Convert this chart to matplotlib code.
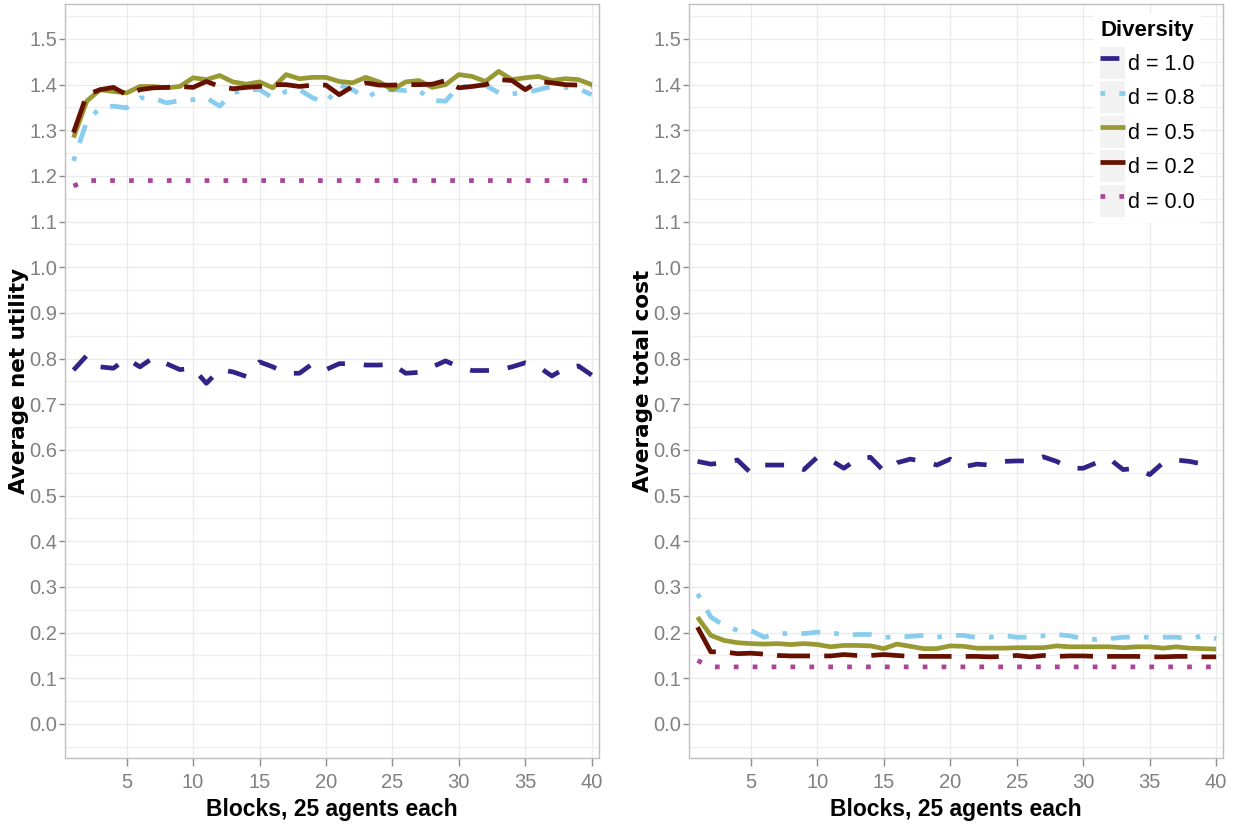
import matplotlib
matplotlib.use("Agg")
import matplotlib.pyplot as plt
from matplotlib.lines import Line2D
from matplotlib.patches import Rectangle
from matplotlib.ticker import MultipleLocator, FormatStrFormatter

# --- data ---
blocks = list(range(1, 41))
diversity_labels = ["d = 1.0", "d = 0.8", "d = 0.5", "d = 0.2", "d = 0.0"]

util_d10 = [0.775, 0.807, 0.782, 0.779, 0.800, 0.782, 0.802, 0.789, 0.776, 0.779,
            0.746, 0.776, 0.771, 0.761, 0.793, 0.782, 0.768, 0.768, 0.789, 0.776,
            0.789, 0.789, 0.786, 0.786, 0.788, 0.768, 0.770, 0.782, 0.795, 0.782,
            0.774, 0.774, 0.775, 0.782, 0.791, 0.782, 0.762, 0.779, 0.784, 0.764]
util_d08 = [1.233, 1.320, 1.349, 1.353, 1.349, 1.371, 1.371, 1.360, 1.365, 1.367,
            1.371, 1.353, 1.382, 1.389, 1.389, 1.371, 1.385, 1.389, 1.371, 1.360,
            1.399, 1.389, 1.371, 1.387, 1.389, 1.387, 1.387, 1.365, 1.364, 1.396,
            1.396, 1.399, 1.382, 1.380, 1.382, 1.389, 1.396, 1.394, 1.391, 1.378]
util_d05 = [1.284, 1.364, 1.389, 1.385, 1.382, 1.396, 1.396, 1.393, 1.396, 1.415,
            1.411, 1.420, 1.406, 1.401, 1.406, 1.393, 1.422, 1.413, 1.416, 1.416,
            1.407, 1.404, 1.416, 1.406, 1.389, 1.406, 1.409, 1.394, 1.400, 1.422,
            1.418, 1.407, 1.429, 1.411, 1.415, 1.418, 1.409, 1.413, 1.411, 1.400]
util_d02 = [1.295, 1.378, 1.389, 1.394, 1.378, 1.389, 1.393, 1.394, 1.396, 1.394,
            1.407, 1.396, 1.391, 1.394, 1.396, 1.400, 1.400, 1.396, 1.399, 1.399,
            1.378, 1.396, 1.404, 1.399, 1.399, 1.400, 1.400, 1.401, 1.409, 1.393,
            1.396, 1.400, 1.411, 1.409, 1.389, 1.407, 1.404, 1.400, 1.399, 1.396]
util_d00 = [1.178, 1.19, 1.19, 1.19, 1.19, 1.19, 1.19, 1.19, 1.19, 1.19,
            1.19, 1.19, 1.19, 1.19, 1.19, 1.19, 1.19, 1.19, 1.19, 1.19,
            1.19, 1.19, 1.19, 1.19, 1.19, 1.19, 1.19, 1.19, 1.19, 1.19,
            1.19, 1.19, 1.19, 1.19, 1.19, 1.19, 1.19, 1.19, 1.19, 1.19]

cost_d10 = [0.575, 0.569, 0.572, 0.578, 0.550, 0.567, 0.567, 0.567, 0.557, 0.584,
            0.578, 0.560, 0.580, 0.584, 0.554, 0.572, 0.580, 0.575, 0.567, 0.580,
            0.563, 0.569, 0.567, 0.575, 0.576, 0.576, 0.585, 0.575, 0.560, 0.560,
            0.572, 0.580, 0.557, 0.560, 0.546, 0.572, 0.578, 0.575, 0.569, 0.561]
cost_d08 = [0.285, 0.234, 0.216, 0.205, 0.205, 0.190, 0.198, 0.198, 0.198, 0.201,
            0.201, 0.194, 0.196, 0.196, 0.190, 0.190, 0.192, 0.194, 0.190, 0.194,
            0.194, 0.189, 0.190, 0.194, 0.190, 0.190, 0.193, 0.196, 0.193, 0.187,
            0.185, 0.187, 0.190, 0.190, 0.190, 0.190, 0.190, 0.187, 0.193, 0.187]
cost_d05 = [0.234, 0.194, 0.183, 0.178, 0.176, 0.175, 0.176, 0.174, 0.176, 0.174,
            0.169, 0.172, 0.172, 0.171, 0.165, 0.175, 0.170, 0.165, 0.165, 0.171,
            0.170, 0.166, 0.166, 0.166, 0.167, 0.167, 0.167, 0.171, 0.169, 0.169,
            0.169, 0.169, 0.167, 0.169, 0.169, 0.166, 0.169, 0.166, 0.165, 0.164]
cost_d02 = [0.212, 0.158, 0.158, 0.154, 0.155, 0.153, 0.150, 0.149, 0.149, 0.149,
            0.149, 0.152, 0.150, 0.150, 0.152, 0.150, 0.148, 0.148, 0.148, 0.148,
            0.148, 0.148, 0.147, 0.148, 0.150, 0.147, 0.150, 0.148, 0.149, 0.149,
            0.148, 0.148, 0.148, 0.148, 0.147, 0.147, 0.148, 0.148, 0.147, 0.147]
cost_d00 = [0.139, 0.125, 0.125, 0.125, 0.125, 0.125, 0.125, 0.125, 0.125, 0.125,
            0.125, 0.125, 0.125, 0.125, 0.125, 0.125, 0.125, 0.125, 0.125, 0.125,
            0.125, 0.125, 0.125, 0.125, 0.125, 0.125, 0.125, 0.125, 0.125, 0.125,
            0.125, 0.125, 0.125, 0.125, 0.125, 0.125, 0.125, 0.125, 0.125, 0.125]

# --- styles ---
colors = ["#332288", "#88CCEE", "#999933", "#661100", "#AA4499"]
dash_styles = [(4, 4), (1, 3, 4, 3), None, (7, 3), (1, 3)]
LW = 3.4

plt.rcParams['font.family'] = ['Liberation Sans', 'DejaVu Sans']

fig = plt.figure(figsize=(12.33, 8.24), dpi=100)
ax1 = fig.add_axes([65 / 1233, 1 - 757.5 / 824, 534 / 1233, 753.5 / 824])
ax2 = fig.add_axes([689 / 1233, 1 - 757.5 / 824, 534.5 / 1233, 753.5 / 824])


def draw_panel(ax, series, ylabel):
    for vals, c, ds in zip(series, colors, dash_styles):
        line, = ax.plot(blocks, vals, color=c, lw=LW, solid_capstyle='butt',
                        dash_capstyle='butt', solid_joinstyle='round', zorder=3)
        if ds is not None:
            line.set_dashes(ds)
    ax.set_xlim(0.36, 40.55)
    ax.set_ylim(-0.0734, 1.5766)
    ax.set_xticks([5, 10, 15, 20, 25, 30, 35, 40])
    ax.set_yticks([i / 10 for i in range(16)])
    ax.yaxis.set_minor_locator(MultipleLocator(0.05))
    ax.yaxis.set_major_formatter(FormatStrFormatter('%.1f'))
    ax.grid(which='major', color='#EBEBEB', lw=1.0, zorder=0)
    ax.grid(which='minor', axis='y', color='#EFEFEF', lw=0.9, zorder=0)
    ax.set_axisbelow(True)
    for sp in ax.spines.values():
        sp.set_color('#BEBEBE')
        sp.set_linewidth(1.0)
    ax.tick_params(which='minor', length=0)
    ax.tick_params(axis='x', which='major', length=5.4, width=1, color='#8C8C8C',
                   labelcolor='#808080', labelsize=14.5, pad=6)
    ax.tick_params(axis='y', which='major', length=4.1, width=1, color='#8C8C8C',
                   labelcolor='#808080', labelsize=14.5, pad=1.5)
    ax.set_xlabel("Blocks, 25 agents each", fontsize=16.5, fontweight='bold', labelpad=4)
    ax.set_ylabel(ylabel, fontsize=15.5, fontweight='bold', labelpad=0,
                  family=['DejaVu Sans'])


draw_panel(ax1, [util_d10, util_d08, util_d05, util_d02, util_d00], "Average net utility")
draw_panel(ax2, [cost_d10, cost_d08, cost_d05, cost_d02, cost_d00], "Average total cost")

# legend with grey key boxes
handles = []
for c, ds in zip(colors, dash_styles):
    ln = Line2D([], [], color=c, lw=LW, solid_capstyle='butt', dash_capstyle='butt')
    if ds is not None:
        ln.set_dashes(ds)
    box = Rectangle((0, 0), 1, 1, facecolor='#F2F2F2', edgecolor='none')
    handles.append((box, ln))

leg = ax2.legend(handles, diversity_labels, title="Diversity",
                 loc='upper left', bbox_to_anchor=(1094 / 1233, 1 - 14 / 824),
                 bbox_transform=fig.transFigure, fontsize=15.5,
                 title_fontproperties={'weight': 'bold', 'size': 16},
                 handlelength=1.14, handleheight=1.9, handletextpad=0.15,
                 labelspacing=0.12, borderpad=0.3, borderaxespad=0,
                 frameon=True, fancybox=False, framealpha=1,
                 facecolor='white', edgecolor='white', alignment='left')
leg.get_frame().set_linewidth(0)
leg._legend_box.sep = 4  # a bit more room under the title

fig.savefig("out.png", dpi=100)
